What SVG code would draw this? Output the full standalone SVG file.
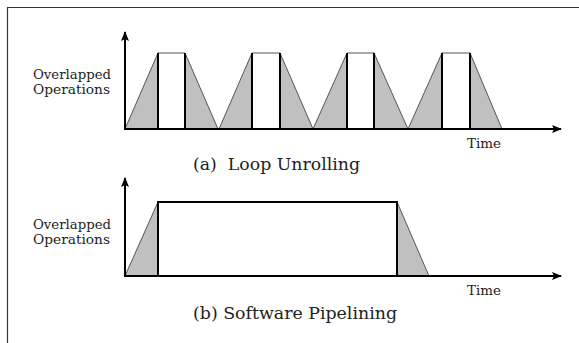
<svg xmlns="http://www.w3.org/2000/svg" width="579" height="343" viewBox="0 0 579 343">
<style>
.frame{stroke:#333;stroke-width:1.2;fill:none}
.ramp{fill:#c0c0c0;stroke:#555;stroke-width:1}
.rect{fill:#fff;stroke:#555;stroke-width:1}
.edge{stroke:#000;stroke-width:2;fill:none}
.axis{stroke:#000;stroke-width:2;fill:none}
.lbl{font-family:"DejaVu Serif","Liberation Serif",serif;fill:#222}
.small{font-size:12.3px}
.cap{font-size:17px}
</style>
<defs>
<marker id="arr" markerWidth="10" markerHeight="8" refX="9" refY="4" orient="auto" markerUnits="userSpaceOnUse">
<path d="M0,0 L10,4 L0,8 L2,4 Z" fill="#000"/>
</marker>
</defs>
<g id="frame"><path class="frame" d="M7.5,343 V7.5 H579"/></g>

<g id="chartA">
<g id="a1">
<path class="ramp" d="M125,129 L158,53 L158,129 Z"/>
<path class="rect" d="M158,53 H185 V129 H158 Z"/>
<path class="ramp" d="M185,53 L218,129 L185,129 Z"/>
<path class="edge" d="M158,53 V129 M185,53 V129"/>
</g>
<g id="a2">
<path class="ramp" d="M219,129 L252,53 L252,129 Z"/>
<path class="rect" d="M252,53 H280 V129 H252 Z"/>
<path class="ramp" d="M280,53 L313,129 L280,129 Z"/>
<path class="edge" d="M252,53 V129 M280,53 V129"/>
</g>
<g id="a3">
<path class="ramp" d="M313,129 L347,53 L347,129 Z"/>
<path class="rect" d="M347,53 H374 V129 H347 Z"/>
<path class="ramp" d="M374,53 L408,129 L374,129 Z"/>
<path class="edge" d="M347,53 V129 M374,53 V129"/>
</g>
<g id="a4">
<path class="ramp" d="M408,129 L442,53 L442,129 Z"/>
<path class="rect" d="M442,53 H470 V129 H442 Z"/>
<path class="ramp" d="M470,53 L502,129 L470,129 Z"/>
<path class="edge" d="M442,53 V129 M470,53 V129"/>
</g>
<g id="axesA">
<path class="axis" d="M125,129 V32" marker-end="url(#arr)"/>
<path class="axis" d="M124,129 H561" marker-end="url(#arr)"/>
</g>
<text class="lbl small" x="33" y="79" textLength="78" lengthAdjust="spacingAndGlyphs">Overlapped</text>
<text class="lbl small" x="33" y="93.5" textLength="77" lengthAdjust="spacingAndGlyphs">Operations</text>
<text class="lbl small" x="467" y="148" textLength="34" lengthAdjust="spacingAndGlyphs">Time</text>
<text class="lbl cap" x="193" y="170" textLength="167" lengthAdjust="spacingAndGlyphs" xml:space="preserve">(a)  Loop Unrolling</text>
</g>

<g id="chartB">
<path class="ramp" d="M125,276 L158,202 L158,276 Z"/>
<path class="rect" d="M158,202 H397 V276 H158 Z"/>
<path class="ramp" d="M397,202 L429,276 L397,276 Z"/>
<path class="edge" d="M158,276 V202 H397 V276"/>
<g id="axesB">
<path class="axis" d="M125,276 V178" marker-end="url(#arr)"/>
<path class="axis" d="M124,276 H561" marker-end="url(#arr)"/>
</g>
<text class="lbl small" x="33" y="229" textLength="78" lengthAdjust="spacingAndGlyphs">Overlapped</text>
<text class="lbl small" x="33" y="244" textLength="77" lengthAdjust="spacingAndGlyphs">Operations</text>
<text class="lbl small" x="467" y="295" textLength="34" lengthAdjust="spacingAndGlyphs">Time</text>
<text class="lbl cap" x="193" y="318.5" textLength="204" lengthAdjust="spacingAndGlyphs">(b) Software Pipelining</text>
</g>
</svg>
